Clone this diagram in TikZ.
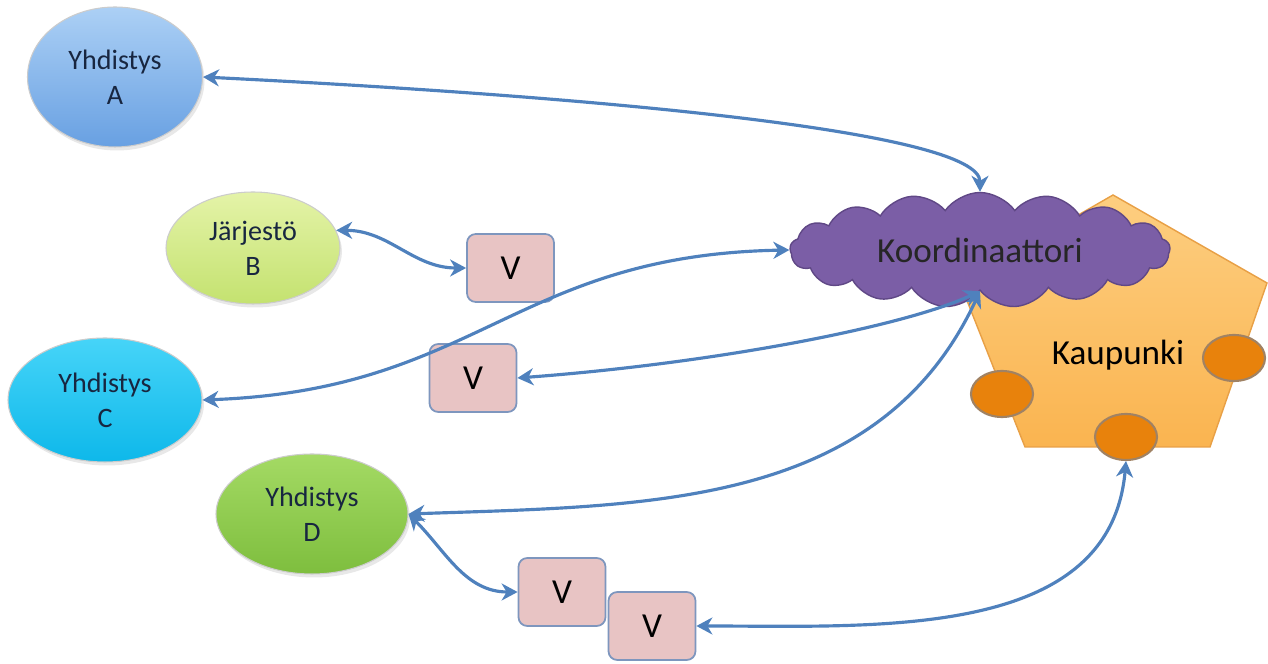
\documentclass[tikz,border=0pt]{standalone}
\usepackage{fontspec}
\setmainfont{Carlito}
\usepackage{tikz}
\usetikzlibrary{positioning,arrows.meta,shapes.geometric,shapes.symbols,shadows}
\definecolor{linkblue}{RGB}{79,129,189}
\definecolor{aTop}{RGB}{172,208,245}
\definecolor{aBot}{RGB}{104,160,226}
\definecolor{bTop}{RGB}{228,243,168}
\definecolor{bBot}{RGB}{196,226,112}
\definecolor{cTop}{RGB}{70,212,248}
\definecolor{cBot}{RGB}{14,184,234}
\definecolor{dTop}{RGB}{164,218,100}
\definecolor{dBot}{RGB}{126,190,62}
\definecolor{orgtext}{RGB}{24,38,64}
\definecolor{vboxfill}{RGB}{232,196,196}
\definecolor{vboxline}{RGB}{126,150,190}
\definecolor{cloudfill}{RGB}{123,94,166}
\definecolor{cloudline}{RGB}{96,72,134}
\definecolor{cityTop}{RGB}{253,206,128}
\definecolor{cityBot}{RGB}{250,180,80}
\definecolor{cityline}{RGB}{232,160,70}
\definecolor{knobfill}{RGB}{232,130,12}
\definecolor{knobline}{RGB}{160,130,100}
\tikzset{
  linkarrow/.style={{Stealth[length=3.2mm,width=3.4mm,inset=1mm]}-{Stealth[length=3.2mm,width=3.4mm,inset=1mm]}, line width=1.8pt, draw=linkblue},
  orgnode/.style={ellipse, draw=black!20, line width=0.6pt, align=center, text=orgtext, font=\fontsize{16}{20}\selectfont, drop shadow={opacity=0.18, shadow xshift=0.04cm, shadow yshift=-0.07cm}},
  vbox/.style={draw=vboxline, fill=vboxfill, rounded corners=5pt, line width=1pt, minimum width=1.74cm, minimum height=1.36cm, font=\fontsize{20}{24}\selectfont},
  cityshape/.style={draw=cityline, line width=0.8pt, top color=cityTop, bottom color=cityBot},
  knob/.style={ellipse, draw=knobline, fill=knobfill, line width=1.2pt, minimum width=1.24cm, minimum height=0.92cm},
  coordcloud/.style={cloud, cloud puffs=17, cloud puff arc=110, aspect=3.3, draw=cloudline, fill=cloudfill, line width=0.8pt, minimum width=7.6cm, minimum height=2.3cm, inner sep=0pt, font=\fontsize{20}{24}\selectfont, text=black!85}
}
\begin{document}
\begin{tikzpicture}
  \useasboundingbox (0,0) rectangle (25.36,13.28);
  \draw[cityshape] (19.2,7.62) -- (22.26,9.38) -- (25.34,7.62) -- (24.2,4.34) -- (20.5,4.34) -- cycle;
  \node[font=\fontsize{20}{24}\selectfont] (kaup) at (22.36,6.18) {Kaupunki};
  \node[knob] (kl) at (20.04,5.40) {};
  \node[knob] (kr) at (24.68,6.12) {};
  \node[knob] (kb) at (22.52,4.54) {};
  \node[coordcloud] (koord) at (19.6,8.28) {Koordinaattori};
  \node[orgnode, top color=aTop, bottom color=aBot, minimum width=3.5cm, minimum height=2.8cm] (ya) at (2.30,11.74) {Yhdistys\\A};
  \node[orgnode, top color=bTop, bottom color=bBot, minimum width=3.48cm, minimum height=2.24cm] (jb) at (5.06,8.32) {Järjestö\\B};
  \node[orgnode, top color=cTop, bottom color=cBot, minimum width=3.88cm, minimum height=2.48cm] (yc) at (2.10,5.28) {Yhdistys\\C};
  \node[orgnode, top color=dTop, bottom color=dBot, minimum width=3.84cm, minimum height=2.4cm] (yd) at (6.24,3.00) {Yhdistys\\D};
  \node[vbox] (v1) at (10.21,7.92) {V};
  \node[vbox] (v2) at (9.46,5.72) {V};
  \node[vbox] (v3) at (11.24,1.44) {V};
  \node[vbox] (v4) at (13.04,0.76) {V};
  \draw[linkarrow] (ya.east) .. controls +(8,-0.4) and +(0,1.2) .. (koord.north);
  \draw[linkarrow] (jb.12) to[out=0,in=180] (v1.west);
  \draw[linkarrow] (koord.west) .. controls +(-5.5,-0.1) and +(5.5,0.2) .. (yc.east);
  \draw[linkarrow] (v2.east) .. controls +(4,0.3) and +(-1.5,-0.7) .. (koord.south);
  \draw[linkarrow] (yd.east) to[out=2,in=-115] (koord.south);
  \draw[linkarrow] (yd.east) to[out=-45,in=180] (v3.west);
  \draw[linkarrow] (v4.east) to[out=0,in=-95] (kb.south);
\end{tikzpicture}
\end{document}
